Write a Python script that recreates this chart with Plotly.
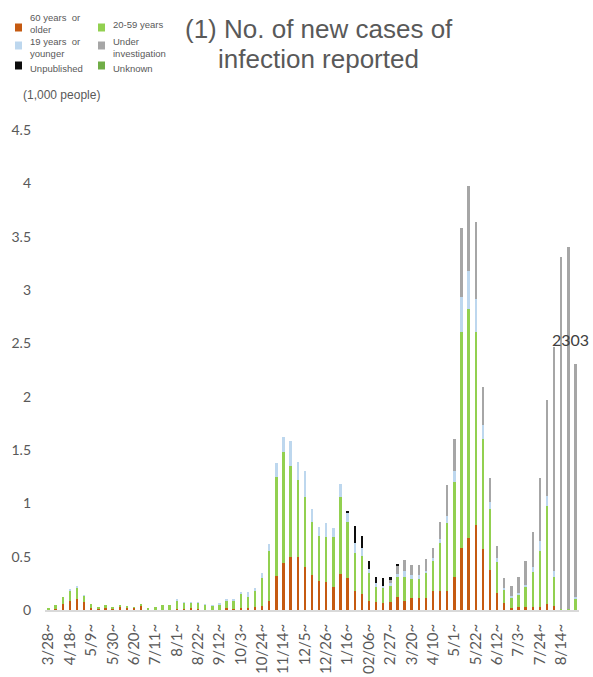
import plotly.graph_objects as go

# ---------------- data (thousand people per week) ----------------
weeks = list(range(75))  # weekly bars starting 3/28
tick_weeks = list(range(0, 75, 3))
tick_labels = ["3/28~", "4/18~", "5/9~", "5/30~", "6/20~", "7/11~", "8/1~", "8/22~",
               "9/12~", "10/3~", "10/24~", "11/14~", "12/5~", "12/26~", "1/16~",
               "02/06~", "2/27~", "3/20~", "4/10~", "5/1~", "5/22~", "6/12~", "7/3~",
               "7/24~", "8/14~"]

older = [0.003, 0.01, 0.06, 0.085, 0.105, 0.078, 0.02, 0.01, 0.018, 0.015,
         0.033, 0.022, 0.022, 0.038, 0.002, 0.003, 0.003, 0.003, 0.012, 0.006,
         0.015, 0.01, 0.003, 0.003, 0.004, 0.015, 0.012, 0.016, 0.015, 0.025,
         0.034, 0.081, 0.322, 0.44, 0.5, 0.494, 0.4, 0.325, 0.275, 0.266,
         0.213, 0.34, 0.297, 0.175, 0.15, 0.0875, 0.072, 0.0625, 0.072, 0.119,
         0.087, 0.117, 0.108, 0.117, 0.181, 0.181, 0.181, 0.306, 0.584, 0.672,
         0.797, 0.569, 0.375, 0.156, 0.0625, 0.022, 0.025, 0.031, 0.031, 0.031,
         0.056, 0.0375, 0.0, 0.0, 0.0]
age20_59 = [0.012, 0.035, 0.065, 0.1, 0.105, 0.057, 0.04, 0.018, 0.027, 0.01,
            0.009, 0.013, 0.005, 0.012, 0.008, 0.027, 0.044, 0.042, 0.08, 0.064,
            0.055, 0.06, 0.047, 0.041, 0.044, 0.075, 0.075, 0.135, 0.105, 0.155,
            0.269, 0.469, 0.922, 1.038, 0.853, 0.728, 0.663, 0.497, 0.415, 0.414,
            0.475, 0.723, 0.531, 0.356, 0.353, 0.2625, 0.14, 0.14, 0.15, 0.19,
            0.222, 0.175, 0.187, 0.227, 0.278, 0.444, 0.631, 0.891, 2.026, 2.148,
            1.813, 1.031, 0.569, 0.291, 0.1315, 0.097, 0.119, 0.188, 0.328, 0.525,
            0.922, 0.2685, 0.005, 0.005, 0.103]
age19 = [0.0, 0.0, 0.0, 0.005, 0.015, 0.005, 0.0, 0.0, 0.0, 0.0,
         0.0, 0.0, 0.0, 0.0, 0.0, 0.0, 0.0, 0.0, 0.002, 0.002,
         0.002, 0.005, 0.002, 0.002, 0.01, 0.013, 0.015, 0.022, 0.045, 0.025,
         0.041, 0.07, 0.131, 0.147, 0.235, 0.168, 0.243, 0.125, 0.09, 0.139,
         0.081, 0.117, 0.078, 0.097, 0.075, 0.034, 0.038, 0.019, 0.028, 0.032,
         0.06, 0.038, 0.03, 0.02, 0.025, 0.041, 0.072, 0.106, 0.3275, 0.36,
         0.3025, 0.134, 0.072, 0.043, 0.015, 0.015, 0.0185, 0.015, 0.047, 0.094,
         0.091, 0.06, 0.0, 0.0, 0.022]
unknown = [0.0] * 75
investigation = [0.0] * 48 + [
    0.04, 0.072, 0.097, 0.088, 0.10, 0.116, 0.094, 0.156, 0.288, 0.297,
    0.6465, 0.795, 0.7275, 0.36, 0.218, 0.11, 0.088, 0.094, 0.15, 0.225,
    0.322, 0.59, 0.9, 2.103, 3.30, 3.40, 2.178]
unpublished = [0.0] * 42 + [0.025, 0.162, 0.116, 0.0785, 0.056, 0.078, 0.016, 0.022] + [0.0] * 25

series_names = ["60 years  or<br>older", "20-59 years", "19 years  or<br>younger",
                "Unknown", "Under<br>investigation", "Unpublished"]
series_values = [older, age20_59, age19, unknown, investigation, unpublished]
series_colors = ["#C55A11", "#92D050", "#BDD7EE", "#70AD47", "#A6A6A6", "#0D0D0D"]

title_lines = ["(1) No. of new cases of", "infection reported"]
unit_label = "(1,000 people)"

# ---------------- layout geometry ----------------
W, H = 593, 677
ML, MR, MT, MB = 45, 14, 130, 67
PW, PH = W - ML - MR, H - MT - MB


def px(x):
    return (x - ML) / PW


def py(y):
    return (H - MB - y) / PH


fig = go.Figure()
for name, vals, col in zip(series_names, series_values, series_colors):
    fig.add_trace(go.Bar(x=weeks, y=vals, name=name.replace("<br>", " "),
                         marker=dict(color=col, line=dict(width=0)),
                         width=0.34, showlegend=False))

grey_txt = "#595959"
annotations = []
shapes = []

# title
annotations.append(dict(text=title_lines[0], x=px(319), y=py(29), xref="paper", yref="paper",
                        showarrow=False, xanchor="center", yanchor="middle",
                        font=dict(family="Liberation Sans, Arial", size=26, color=grey_txt)))
annotations.append(dict(text=title_lines[1], x=px(318), y=py(59), xref="paper", yref="paper",
                        showarrow=False, xanchor="center", yanchor="middle",
                        font=dict(family="Liberation Sans, Arial", size=26, color=grey_txt)))
# unit
annotations.append(dict(text=unit_label, x=px(21), y=py(95), xref="paper", yref="paper",
                        showarrow=False, xanchor="left", yanchor="middle",
                        font=dict(family="Liberation Sans, Arial", size=12, color=grey_txt)))

# manual legend (two columns)
legend_order = [0, 2, 5, 1, 4, 3]
sq_pos = [(18.5, 27.5), (18.5, 45.5), (18.5, 65.5), (101.5, 27.5), (101.5, 45.5), (101.5, 65.5)]
txt_y = [24, 47, 69, 24.5, 47, 69]
for k, idx in enumerate(legend_order):
    cx, cy = sq_pos[k]
    shapes.append(dict(type="rect", xref="paper", yref="paper",
                       x0=px(cx - 3.5), x1=px(cx + 3.5), y0=py(cy + 4), y1=py(cy - 4),
                       fillcolor=series_colors[idx], line=dict(width=0)))
    annotations.append(dict(text=series_names[idx], x=px(cx + 9.5), y=py(txt_y[k]),
                            xref="paper", yref="paper", showarrow=False,
                            xanchor="left", yanchor="middle", align="left",
                            font=dict(family="Liberation Sans, Arial", size=9.5, color=grey_txt)))

# data label for the last bar
last = len(weeks) - 1
last_total = sum(v[last] for v in series_values)
annotations.append(dict(text=str(round(last_total * 1000)), x=weeks[last], y=last_total,
                        xref="x", yref="y", showarrow=False, xanchor="center", yanchor="bottom",
                        xshift=-5, yshift=13,
                        font=dict(family="Lato", size=16, color="#404040")))

fig.update_layout(
    width=W, height=H,
    margin=dict(l=ML, r=MR, t=MT, b=MB, autoexpand=False),
    barmode="stack",
    plot_bgcolor="white", paper_bgcolor="white",
    annotations=annotations, shapes=shapes,
    xaxis=dict(range=[-0.5, 74.5], tickmode="array", tickvals=tick_weeks, ticktext=tick_labels,
               tickangle=-90, showgrid=False, zeroline=False, showline=True, automargin=False,
               linecolor="#D9D9D9", linewidth=1.5, ticks="", ticklabelstandoff=6,
               tickfont=dict(family="Lato", size=15, color=grey_txt)),
    yaxis=dict(range=[0, 4.5], tickmode="array", tickvals=[0, 0.5, 1, 1.5, 2, 2.5, 3, 3.5, 4, 4.5],
               ticktext=["0", "0.5", "1", "1.5", "2", "2.5", "3", "3.5", "4", "4.5"],
               showgrid=False, zeroline=False, showline=False, ticks="", ticklabelstandoff=13,
               automargin=False,
               tickfont=dict(family="Lato", size=14, color=grey_txt)),
)

fig.write_html("out.html", config={"displayModeBar": False},
               post_script="document.body.style.margin='0';document.body.style.overflow='hidden';")
